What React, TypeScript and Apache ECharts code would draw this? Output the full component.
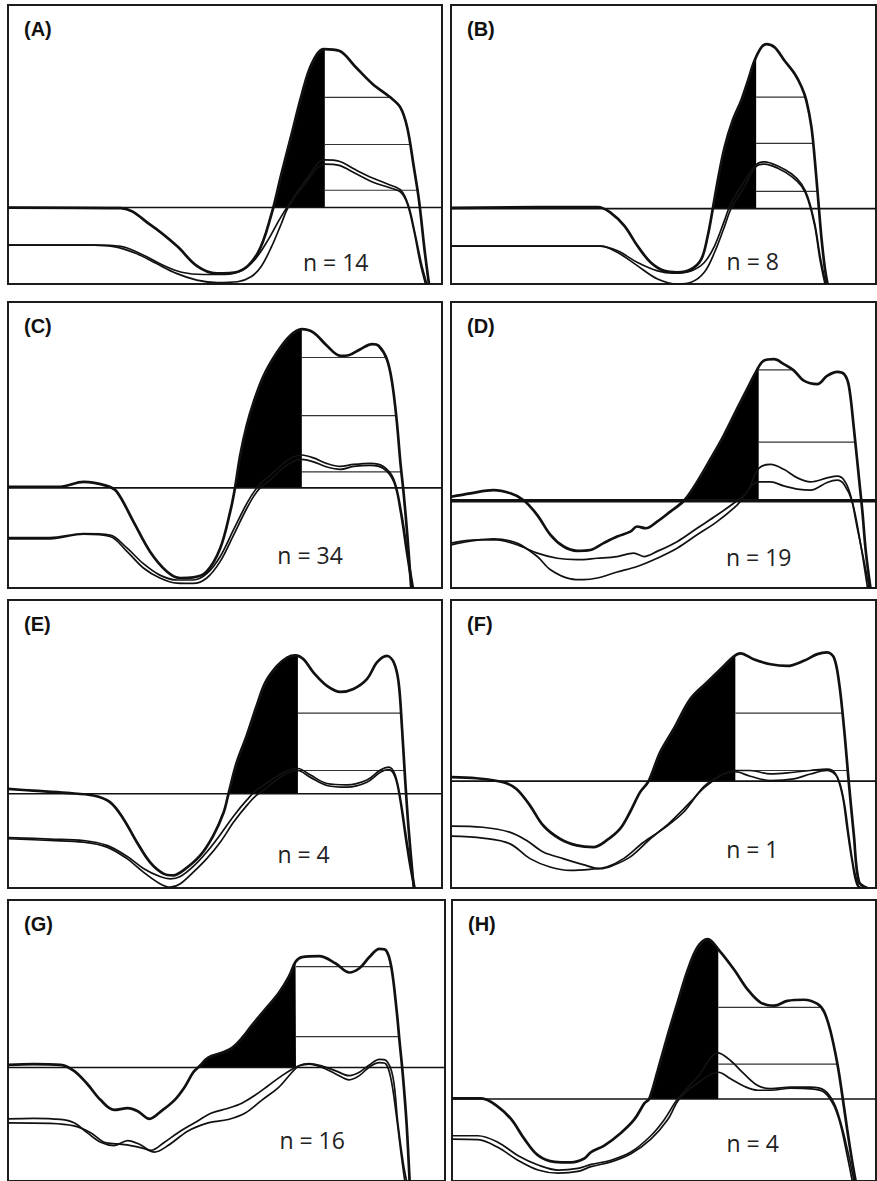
import React, { useEffect, useRef } from "react";
import * as echarts from "echarts";

type Pt = [number, number];

// ---------- DATA (each panel: x 0-100 across, y 0-100 bottom to top) ----------
const panelLetters = ["(A)", "(B)", "(C)", "(D)", "(E)", "(F)", "(G)", "(H)"];
const sampleSizes = ["n = 14", "n = 8", "n = 34", "n = 19", "n = 4", "n = 1", "n = 16", "n = 4"];
const baselines = [27.4, 27.0, 35.0, 30.5, 32.7, 37.1, 40.4, 29.2];
const cutPositions = [73.0, 71.8, 67.7, 72.4, 66.8, 66.9, 65.9, 62.8];
const levelsA = [66.9, 50, 33.6];
const levelsB = [67, 50.4, 33.2];
const levelsC = [80.6, 60.3, 40.6];
const levelsD = [76.3, 51];
const levelsE = [60.7, 40.8];
const levelsF = [60.7, 40.8];
const levelsG = [76.3, 51.4];
const levelsH = [61.8, 41.6];

const topA: Pt[] = [[0,27.4],[26,27.2],[33,21],[39,13.5],[43.5,6.5],[48,3.8],[53,4.4],[57.5,11],[60.7,25],[63,39.5],[65.4,54],[67.7,68],[70,79],[72.8,84.2],[76.3,83.6],[80.2,77.6],[84,71.7],[88,67],[90.4,63.3],[92,56],[93.5,42],[94.7,30],[96,12],[97,0]];
const lowA1: Pt[] = [[0,13.9],[20,13.9],[24.7,13.3],[29.4,11],[34.1,7.4],[38.8,3.8],[43.5,1.4],[48.2,0.5],[52.9,0.8],[56,2.6],[58.3,6.2],[60.7,13.3],[63,21.7],[64.6,27.6],[68.5,36],[73,43],[76.3,42.5],[80.2,39.5],[84.1,36.5],[88,34.5],[90.4,33],[92,28.8],[93.5,19.3],[95,7.4],[96.2,0]];
const lowA2: Pt[] = [[0,13.9],[20,13.9],[26,13.5],[31,10.5],[36,6.5],[40,4.2],[45,3.4],[50,3.4],[54,5],[57,9],[60,16],[62.5,23],[64.5,28],[68.5,37],[73,44.5],[76.3,44],[80,41],[84,38],[88,35.5],[90.6,33.5],[92.3,28],[93.8,18],[95.3,7],[96.5,0]];

const topB: Pt[] = [[0,27.3],[34.5,27.6],[37.6,25.5],[40.8,20.8],[43.9,13.6],[47,7.7],[50.2,4.7],[53.3,4.2],[56.5,5.3],[58.9,8.9],[60.4,17.2],[61.6,27],[62.8,37.4],[64.4,49.2],[66.3,58.7],[68.3,65.8],[69.9,73],[71.4,80],[73,84.8],[74.2,86],[76.2,84.8],[78.5,80],[80.9,75.3],[82.5,70.6],[83.6,65.8],[84.8,56.3],[85.6,44.5],[86.4,30.2],[87.2,16],[88,5.3],[88.6,0]];
const lowB1: Pt[] = [[0,13.6],[35.2,13.6],[39.2,11.3],[43.9,6.5],[48.6,1.8],[53.3,0],[56.5,0.6],[59.6,4.2],[62,11.3],[64.4,20.8],[65.9,27],[69.1,35],[71.8,42.1],[73.8,43],[76.9,41.5],[80.1,38.6],[82.5,35],[84,30.2],[85.6,20.8],[86.8,8.9],[88,0]];
const lowB2: Pt[] = [[0,13.6],[35,13.6],[39.2,11.9],[43.9,7.7],[48.6,4.7],[52.5,3.9],[56.5,4.7],[59.6,7.7],[62,13.6],[64.4,23],[65.9,29],[69.1,37],[71.8,42.8],[73.8,43.8],[76.9,42.3],[80.1,39.5],[82.5,35.8],[84,31],[85.6,21.5],[86.9,9.5],[88.2,0]];

const topC: Pt[] = [[0,35.4],[12,35.4],[17.4,37.1],[22.8,35.7],[25.1,33.6],[28.9,23.2],[32.7,12.8],[36.6,5.8],[39.7,3.5],[42.7,3.7],[45.8,5.8],[48.9,13.9],[51.2,26.7],[52.3,35],[53.5,46.4],[55,56.8],[56.6,65],[58.9,74.2],[62,82.4],[65,88.2],[67.7,90.5],[70.4,89.3],[73.5,84.7],[76.6,81.2],[78.5,81.4],[81.2,83.5],[83.9,85.3],[85.4,84.7],[87.3,80],[88.5,71.9],[89.6,58],[90.4,44.1],[91.2,32.5],[92,18.6],[92.9,0]];
const lowC1: Pt[] = [[0,17.2],[9.7,17.2],[17.4,18.8],[23.5,18],[27.4,12.8],[31.2,7],[35,3.5],[38.9,1.7],[42.7,1.6],[45.8,3.5],[48.9,9.3],[52,18.6],[55,27.8],[57.3,33.6],[58.9,36],[67.7,45],[70.4,44.1],[73.5,42.3],[76.6,41.5],[79.6,42.5],[83.5,42.9],[86.5,41.8],[88.9,37.1],[90.4,26.7],[91.9,11.6],[93.1,0]];
const lowC2: Pt[] = [[0,17.6],[9.7,17.6],[17.4,19],[23.5,18.5],[27.4,14],[31.2,8.5],[35,4.5],[38.9,2.8],[42.7,2.8],[45.8,5],[48.9,11],[52,20.5],[55,29.5],[57.3,35],[58.9,37.5],[67.7,46.5],[70.4,45.5],[73.5,43.5],[76.6,42.5],[79.6,43.2],[83.5,43.6],[86.5,42.5],[88.9,38],[90.6,27],[92.2,11],[93.4,0]];

const topD: Pt[] = [[0,31.9],[4.6,33.1],[10,34.2],[14,33.1],[17.1,30.7],[20.3,25.5],[23.4,18.6],[26.5,14.5],[29.7,13],[32.8,13.3],[35.9,15.7],[39.1,18],[42.2,19.7],[43.8,21.5],[45.8,20.9],[48.5,23.2],[51.6,26.7],[54.8,30.5],[57.9,37.1],[61.1,45.2],[64.2,53.4],[67.3,62.6],[69.7,69.6],[71.7,75.4],[73.6,79.5],[76,80],[78.3,78.3],[80.7,76],[83,72.5],[86.2,71.3],[88.5,74.2],[90.9,75.6],[92.5,74.8],[93.6,70.8],[94.8,55.7],[96,38.3],[96.8,26.7],[97.6,12.8],[98.7,0]];
const lowD1: Pt[] = [[0,15.7],[6.1,16.8],[10.8,16.8],[15.5,15.1],[20.3,12.2],[25,10.4],[29.7,9.9],[34.4,10.4],[39.1,11],[43,12.2],[45.4,11],[48.5,12.8],[53.2,16.2],[57.9,20.9],[62.6,25.5],[67.3,30.5],[69.7,33.6],[72.4,41.8],[75.2,43.2],[78.3,41.5],[81.5,38.5],[84.6,37.1],[88.5,38.5],[90.9,39.1],[92.5,37.7],[94,32.5],[95.6,20.9],[97.2,9.3],[98.4,0]];
const lowD2: Pt[] = [[0,15.1],[10,17.2],[15.5,15.7],[20.3,11],[23.4,6.4],[28.1,3.2],[31.2,2.9],[34.4,3.5],[39.1,5.6],[43.8,7.5],[48.5,10.4],[53.2,13.9],[57.9,18.6],[62.6,23.2],[67.3,29],[72.4,37.1],[75.2,37.1],[78.3,35.7],[81.5,34.6],[84.6,34.2],[88.5,36.9],[90.9,37.7],[92.5,36.2],[94.4,30.2],[96.4,15.1],[98,0]];

const topE: Pt[] = [[0,34.4],[5.8,33.8],[13.5,33],[19.7,32.1],[23.5,29.8],[26.6,24],[29.7,15.9],[32.7,9],[35.8,5],[38.1,4.4],[40.4,6.1],[44.3,11.3],[47.3,18.2],[49.7,26.3],[50.8,32.7],[52.7,43.6],[55,52.9],[57.3,63.3],[59.3,71.4],[62,77.1],[64.3,80],[66.2,80.8],[68.1,79.4],[70.4,74.8],[73.5,70.2],[76.6,68.1],[79.6,69.1],[82.7,72.5],[85,78.3],[87.3,80.6],[88.9,78.3],[90,71.4],[90.8,55.2],[91.5,37.9],[92.3,20.6],[93.5,0]];
const lowE1: Pt[] = [[0,17.1],[9.7,16.5],[17.4,15.9],[22.8,14.2],[27.4,10.2],[31.2,5.5],[35,1.5],[37.4,0.3],[39.7,1.5],[42.7,5.5],[45.8,10.2],[48.9,15.9],[52,22.9],[55,28.6],[57.7,32.7],[66.8,40.8],[69.6,38.5],[73.5,35.6],[78.1,35],[82.7,36.7],[85.8,40.2],[87.7,41.1],[89.2,38.5],[90.4,29.8],[91.5,18.2],[92.7,6.7],[93.6,0]];
const lowE2: Pt[] = [[0,17.5],[9.7,17],[17.4,16.5],[22.8,14.8],[27.4,11],[31.2,6.8],[35,4],[37.4,3.2],[39.7,4],[42.7,7.5],[45.8,12.5],[48.9,18.5],[52,25],[55,30.5],[57.7,34.5],[66.8,41.5],[69.6,39.3],[73.5,36.3],[78.1,35.8],[82.7,37.5],[85.8,41],[87.7,42],[89.2,39.3],[90.5,30.5],[91.7,18.5],[92.9,7],[93.8,0]];

const topF: Pt[] = [[0,38.5],[6,38.1],[12.3,36.7],[15.4,34.4],[18.6,28.6],[21.7,21.7],[25.6,17.1],[29.6,14.8],[33.5,14.2],[36.6,16.5],[39.8,20.6],[42.1,26.3],[44.5,33.3],[46.5,37.1],[49.2,47.1],[52.4,55.2],[56.3,65.6],[60.2,71.4],[64.2,77.1],[66.5,80.4],[68.1,81.5],[71.2,79.4],[75.2,77.7],[79.1,77.1],[83,78.9],[86.2,81.2],[88.5,81.8],[90.1,80],[91.3,71.4],[92.5,55.2],[93.6,36.7],[94.8,18.2],[96,2.1],[98,0]];
const lowF1: Pt[] = [[0,21.5],[7.5,21.1],[13.8,19.4],[17.8,16.5],[21.7,12.5],[26.4,10.2],[31.1,8.1],[35.1,6.7],[38.2,7.9],[42.1,10.7],[46.9,17.1],[51.6,22.9],[56.3,29.8],[60.2,35.6],[66.9,40.8],[70.4,40.8],[75.2,39.6],[80.7,40.2],[84.6,40.8],[88.5,41.3],[90.5,39.6],[92.1,32.1],[93.2,20.6],[94.4,9],[95.6,0.9],[97.2,0]];
const lowF2: Pt[] = [[0,18],[7.5,17.3],[13.8,15.4],[18.6,10.2],[23.3,7.3],[28,6.1],[32.7,6.5],[36.6,7.3],[40.6,10.2],[45.3,15.9],[50,20.6],[54.7,26.3],[60.2,36.1],[66.9,40.4],[70.4,38.8],[75.2,37.3],[80.7,37.9],[84.6,39.6],[88.5,40.8],[90.9,38.5],[92.5,29.8],[93.6,18.2],[94.8,6.7],[96,0]];

const topG: Pt[] = [[0,41.3],[5.8,41.6],[12,41.3],[15.1,39.2],[18.1,34.6],[21.2,28.8],[24.3,25.3],[27.4,25.9],[29.7,24.8],[32.4,22.1],[35,24.8],[38.1,28.8],[40.4,33.4],[42.4,38.7],[43.9,41],[45.8,43.9],[48.9,45.6],[51.2,47.3],[53.5,50.8],[55.8,55.4],[58.9,61.2],[62,67],[64.3,72.8],[65.8,78],[67.3,79.7],[71.2,80],[75,77.4],[78.1,74.2],[80.4,75.7],[82.7,79.7],[85,82.6],[86.5,82.1],[87.7,76.3],[88.9,61.2],[89.6,49.7],[90.4,36.9],[91.2,20.7],[91.9,0]];
const lowG1: Pt[] = [[0,22.1],[5.8,22.3],[12,21.9],[15.1,20.7],[18.1,17.2],[21.2,13.8],[24.3,12.6],[27.4,14.4],[30.4,12.8],[32.7,10.9],[35.8,13.8],[38.9,17.2],[42.7,20.7],[46.6,24.2],[50.4,25.9],[53.5,27.7],[56.6,30.6],[59.6,34],[62.7,37.5],[65,39.8],[66.6,41],[68.9,41.6],[71.9,40.4],[75,38.1],[78.1,36],[80.4,37.5],[82.7,40.6],[85,42.1],[86.5,41.6],[87.7,35.8],[88.9,23],[90,9.1],[90.8,0]];
const lowG2: Pt[] = [[0,20.7],[9.7,20.5],[15.1,19.6],[18.9,17.2],[22,13.8],[25.1,13.2],[28.1,12.6],[31.2,11.5],[33.5,10.3],[36.6,12.6],[41.2,17.8],[45.8,20.7],[50.4,21.9],[54.3,24.2],[58.1,28.8],[62,33.4],[65,38.7],[66.6,41],[68.9,41.8],[71.9,40.9],[75,39.2],[78.1,37.5],[80.4,38.7],[82.7,41.3],[85,43.3],[86.5,42.9],[88.1,36.9],[89.2,20.7],[90.4,6.8],[91.2,0]];

const topH: Pt[] = [[0,29.4],[6.9,29.4],[10.8,26.5],[14,21.9],[17.1,14.9],[20.3,9.1],[24.2,6.8],[28.1,6.6],[31.2,8],[32.8,10.3],[35.9,12.6],[39.9,17.2],[43,21.9],[45.4,27.7],[46.5,29.2],[48.5,39.2],[50.9,52],[53.2,63.5],[55.6,75.1],[57.9,83.2],[60.3,86.1],[63,82.1],[66.6,75.1],[69.7,68.2],[72.8,63.5],[76,62.4],[79.1,64.1],[83,64.5],[86.2,63],[87.8,60.1],[89.3,53.1],[90.9,41.6],[92.1,30],[93.2,18.4],[94.4,6.8],[95.2,0]];
const lowH1: Pt[] = [[0,16.1],[6.1,16.1],[10.8,13.8],[15.5,9.1],[20.3,5.7],[25,3.9],[29.7,4.5],[32.8,5.9],[37.5,7.4],[42.2,10.3],[46.9,16.1],[50.1,21.9],[53.2,29.2],[57.9,36.9],[62.8,45.6],[65.8,42.7],[68.9,38.1],[72.1,34],[75.2,32.9],[79.9,33.4],[84.6,33.4],[87.8,32.3],[90.1,27.7],[91.7,20.7],[93.2,11.5],[94.8,0]];
const lowH2: Pt[] = [[0,14.9],[6.1,14.7],[10.8,12],[15.5,7.4],[20.3,3.9],[25,2.8],[29.7,3.4],[32.8,5.1],[37.5,6.8],[42.2,9.7],[46.9,14.9],[50.9,21.9],[53.6,29.2],[57.9,34.8],[62.8,38.7],[65.8,36.3],[68.9,33.7],[72.1,32.3],[75.2,32.3],[79.9,33],[84.6,32.8],[87.8,31.6],[90.1,26.7],[91.7,19.6],[93.2,9.1],[94.4,0]];

// n-label anchor (x % across, y % from top)
const nLabelX = [75.5, 71, 69.6, 72.4, 68.1, 70.9, 69.6, 70.9];
const nLabelY = [92, 91.7, 88.4, 89, 88.1, 86.4, 83.3, 84.5];

// ---------- LAYOUT ----------
const panelRects: [number, number, number, number][] = [
  [8, 5, 434, 279], [451, 5, 425, 279],
  [8, 302, 434, 286], [451, 302, 425, 286],
  [8, 600, 434, 288], [451, 600, 425, 288],
  [8, 900, 437, 288], [452, 900, 424, 288],
];

const tops = [topA, topB, topC, topD, topE, topF, topG, topH];
const lows1 = [lowA1, lowB1, lowC1, lowD1, lowE1, lowF1, lowG1, lowH1];
const lows2 = [lowA2, lowB2, lowC2, lowD2, lowE2, lowF2, lowG2, lowH2];
const levels = [levelsA, levelsB, levelsC, levelsD, levelsE, levelsF, levelsG, levelsH];

function yAt(curve: Pt[], x: number): number {
  for (let i = 1; i < curve.length; i++) {
    const [x0, y0] = curve[i - 1];
    const [x1, y1] = curve[i];
    if (x >= x0 && x <= x1) {
      const t = x1 === x0 ? 0 : (x - x0) / (x1 - x0);
      return y0 + t * (y1 - y0);
    }
  }
  return curve[curve.length - 1][1];
}

function rightEdge(curve: Pt[], level: number): number {
  for (let i = curve.length - 1; i >= 1; i--) {
    const [x0, y0] = curve[i - 1];
    const [x1, y1] = curve[i];
    if (y0 >= level && y1 < level) {
      const t = (y0 - level) / (y0 - y1);
      return x0 + t * (x1 - x0);
    }
  }
  return 100;
}

function fillPoints(curve: Pt[], base: number, cut: number): Pt[] {
  let crossX = 0;
  for (let i = 1; i < curve.length; i++) {
    const [x0, y0] = curve[i - 1];
    const [x1, y1] = curve[i];
    if (x1 > cut) break;
    if (y0 < base && y1 >= base) {
      const t = (base - y0) / (y1 - y0);
      crossX = x0 + t * (x1 - x0);
    }
  }
  const pts: Pt[] = [[crossX, base]];
  curve.forEach((p) => {
    if (p[0] > crossX && p[0] < cut) pts.push(p);
  });
  pts.push([cut, yAt(curve, cut)]);
  return pts;
}

const INK = "#111";
const SMOOTH = 0.35;

export default function App() {
  const ref = useRef<HTMLDivElement>(null);
  useEffect(() => {
    if (!ref.current) return;
    const chart = echarts.init(ref.current, undefined, { renderer: "svg" });
    const grids: any[] = [];
    const xAxes: any[] = [];
    const yAxes: any[] = [];
    const series: any[] = [];
    const graphics: any[] = [];

    panelRects.forEach((r, i) => {
      const [left, top, width, height] = r;
      grids.push({ left, top, width, height, show: true, borderColor: "#1c1c1c", borderWidth: 2, backgroundColor: "#fff" });
      xAxes.push({ type: "value", gridIndex: i, min: 0, max: 100, show: false });
      yAxes.push({ type: "value", gridIndex: i, min: 0, max: 100, show: false });
      const base = baselines[i];
      const cut = cutPositions[i];
      const top0 = tops[i];
      const common = { xAxisIndex: i, yAxisIndex: i, symbol: "none", silent: true, animation: false };
      series.push({
        ...common, type: "line", smooth: SMOOTH,
        data: fillPoints(top0, base, cut),
        lineStyle: { width: 0.5, color: "#000" },
        areaStyle: { color: "#000", opacity: 1, origin: base },
        z: 2,
      });
      series.push({
        ...common, type: "line",
        data: [[0, base], [100, base]],
        lineStyle: { width: i === 3 ? 3.5 : 1.6, color: INK },
        z: 3,
      });
      levels[i].forEach((lv) => {
        series.push({
          ...common, type: "line",
          data: [[cut, lv], [rightEdge(top0, lv), lv]],
          lineStyle: { width: 1.2, color: "#333" },
          z: 3,
        });
      });
      [lows1[i], lows2[i]].forEach((c) => {
        series.push({
          ...common, type: "line", smooth: SMOOTH, data: c,
          lineStyle: { width: 1.7, color: INK }, z: 4,
        });
      });
      series.push({
        ...common, type: "line", smooth: SMOOTH, data: top0,
        lineStyle: { width: 2.7, color: INK }, z: 5,
      });
      graphics.push({
        type: "text", left: left + 16, top: top + 14, z: 10,
        style: {
          text: panelLetters[i], fontSize: 20, fontWeight: "bold",
          fontFamily: "Liberation Sans", fill: INK,
        },
      });
      graphics.push({
        type: "text", z: 10,
        x: left + (nLabelX[i] / 100) * width,
        y: top + (nLabelY[i] / 100) * height,
        style: {
          text: sampleSizes[i], fontSize: 23, fontFamily: "Open Sans", fill: "#222",
          textAlign: "center", textVerticalAlign: "middle", align: "center", verticalAlign: "middle",
        },
      });
    });

    chart.setOption({
      animation: false,
      backgroundColor: "#fff",
      grid: grids,
      xAxis: xAxes,
      yAxis: yAxes,
      series,
      graphic: graphics,
    });
    return () => chart.dispose();
  }, []);
  return <div ref={ref} style={{ position: "absolute", left: 0, top: 0, width: 877, height: 1181 }} />;
}
